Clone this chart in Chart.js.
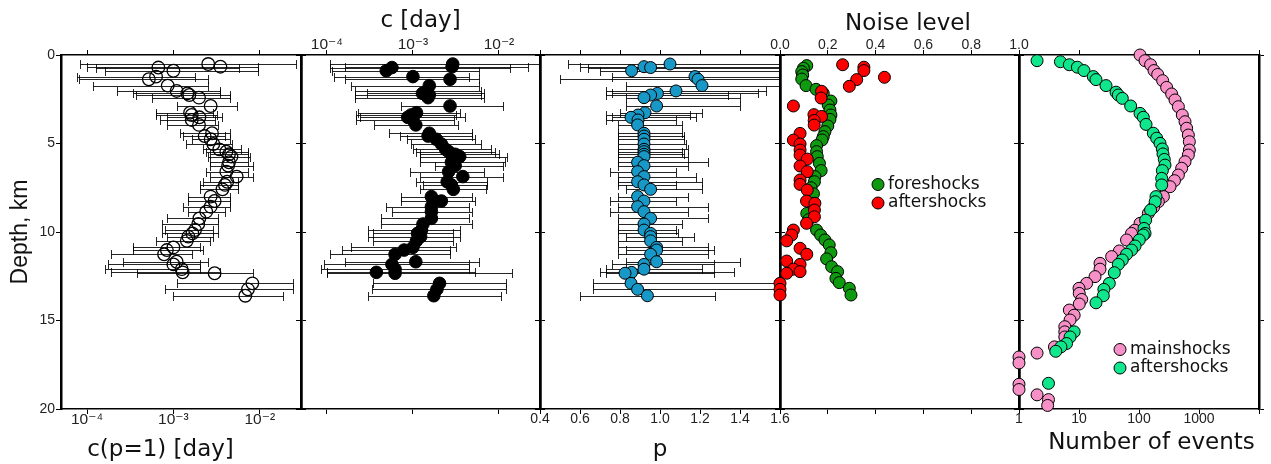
<!DOCTYPE html>
<html>
<head>
<meta charset="utf-8">
<script src="https://cdn.jsdelivr.net/npm/chart.js@4.4.1/dist/chart.umd.min.js"></script>
<style>
  html, body { margin: 0; padding: 0; background: #fff; width: 1271px; height: 464px; overflow: hidden; }
  canvas { position: absolute; left: 0; top: 0; }
</style>
</head>
<body>
<canvas id="panelC1" width="1271" height="464"></canvas>
<canvas id="panelC" width="1271" height="464"></canvas>
<canvas id="panelP" width="1271" height="464"></canvas>
<canvas id="panelNoise" width="1271" height="464"></canvas>
<canvas id="panelCount" width="1271" height="464"></canvas>
<script>
// ---- depth windows shared by the c(p=1), c and p profiles (km) ----
const depthKm = [0.51, 0.66, 0.71, 0.89, 1.22, 1.37, 1.73, 2.03, 2.17, 2.26, 2.41, 2.88, 3.26, 3.39, 3.52, 3.67, 3.95,
  4.42, 4.58, 4.76, 5.03, 5.33, 5.46, 5.61, 5.74, 6.06, 6.25, 6.59, 6.87, 7.16, 7.34, 7.59, 8.0, 8.25, 8.57, 8.85,
  9.23, 9.55, 9.89, 10.08, 10.26, 10.5, 10.87, 11.02, 11.26, 11.68, 11.83, 12.1, 12.28, 12.33, 12.9, 13.24, 13.6];

// c with p fixed to 1 [day] and its confidence interval
const cP1 = [2.53e-3, 3.5e-3, 6.7e-4, 1.0e-3, 6.3e-4, 5.2e-4, 8.6e-4, 1.09e-3, 1.45e-3, 1.53e-3, 1.98e-3, 2.7e-3, 1.56e-3,
  1.63e-3, 2.0e-3, 1.63e-3, 1.98e-3, 2.8e-3, 2.3e-3, 2.7e-3, 2.9e-3, 3.4e-3, 4.1e-3, 4.4e-3, 4.7e-3, 4.4e-3, 4.3e-3,
  4.1e-3, 5.4e-3, 4.2e-3, 3.95e-3, 3.7e-3, 2.7e-3, 3.0e-3, 2.7e-3, 2.4e-3, 2.0e-3, 1.94e-3, 1.78e-3, 1.66e-3, 1.49e-3,
  1.43e-3, 1.0e-3, 8.4e-4, 7.8e-4, 1.09e-3, 1.0e-3, 1.25e-3, 1.28e-3, 3.0e-3, 8.2e-3, 7.3e-3, 6.8e-3];
const cP1Lo = [8.4e-5, 1.0e-4, 1.27e-4, 1.63e-4, 7.7e-5, 8.1e-5, 1.17e-4, 2.24e-4, 3.4e-4, 3.7e-4, 5.6e-4, 1.09e-3, 6.3e-4,
  6.3e-4, 8.5e-4, 7.0e-4, 8.5e-4, 1.19e-3, 1.3e-3, 1.64e-3, 1.4e-3, 2.2e-3, 2.4e-3, 2.65e-3, 2.5e-3, 2.65e-3, 2.65e-3,
  2.4e-3, 2.65e-3, 2.2e-3, 2.03e-3, 2.03e-3, 1.48e-3, 1.48e-3, 1.3e-3, 1.48e-3, 8.5e-4, 7.4e-4, 8.0e-4, 7.4e-4, 8.5e-4,
  6.3e-4, 3.4e-4, 3.4e-4, 1.9e-4, 2.6e-4, 1.76e-4, 1.63e-4, 1.9e-4, 3.8e-4, 1.1e-3, 8.0e-4, 9.9e-4];
const cP1Hi = [0.026, 9.5e-3, 5.8e-3, 9.5e-3, 1.78e-3, 2.5e-3, 2.5e-3, 3.45e-3, 3.45e-3, 4.5e-3, 4.5e-3, 5.4e-3, 2.86e-3,
  3.2e-3, 3.64e-3, 3.0e-3, 3.3e-3, 4.5e-3, 4.0e-3, 4.5e-3, 4.8e-3, 6.0e-3, 7.3e-3, 7.3e-3, 7.8e-3, 7.3e-3, 8.3e-3,
  7.3e-3, 8.3e-3, 5.6e-3, 5.6e-3, 5.6e-3, 4.5e-3, 4.5e-3, 4.5e-3, 4.0e-3, 3.3e-3, 3.3e-3, 2.9e-3, 3.3e-3, 2.9e-3,
  2.65e-3, 2.03e-3, 2.2e-3, 1.64e-3, 2.5e-3, 2.03e-3, 2.03e-3, 3.45e-3, 8.3e-3, 0.024, 0.024, 0.0184];

// c [day] with free p, and its confidence interval
const cDay = [2.9e-3, 2.85e-3, 5.7e-4, 4.9e-4, 1.0e-3, 2.7e-3, 1.55e-3, 1.45e-3, 1.29e-3, 1.55e-3, 1.5e-3, 2.7e-3, 1.1e-3,
  9.5e-4, 8.7e-4, 1.0e-3, 1.08e-3, 1.55e-3, 1.5e-3, 1.87e-3, 2.14e-3, 2.4e-3, 2.6e-3, 3.1e-3, 3.5e-3, 2.8e-3, 3.1e-3,
  2.6e-3, 3.8e-3, 2.5e-3, 2.8e-3, 2.95e-3, 1.64e-3, 2.14e-3, 1.64e-3, 1.64e-3, 1.64e-3, 1.31e-3, 1.26e-3, 1.13e-3,
  1.23e-3, 1.1e-3, 1.0e-3, 7.9e-4, 6.2e-4, 1.08e-3, 5.7e-4, 6.2e-4, 3.76e-4, 6.2e-4, 2.04e-3, 1.9e-3, 1.75e-3];
const cDayLo = [1.09e-4, 1.62e-4, 1.09e-4, 1.16e-4, 1.2e-4, 1.62e-4, 1.92e-4, 2.1e-4, 2.9e-4, 2.1e-4, 2.1e-4, 7.3e-4, 2.3e-4,
  2.2e-4, 2.4e-4, 2.2e-4, 3.5e-4, 5.3e-4, 7.1e-4, 8.5e-4, 9.5e-4, 1.0e-3, 1.1e-3, 1.2e-3, 1.2e-3, 1.2e-3, 1.8e-3,
  9.2e-4, 1.2e-3, 1.1e-3, 1.3e-3, 1.2e-3, 7.3e-4, 7.3e-4, 4.8e-4, 5.7e-4, 4.2e-4, 4.2e-4, 3.0e-4, 3.4e-4, 3.0e-4,
  3.4e-4, 1.9e-4, 1.5e-4, 1.09e-4, 1.62e-4, 9.2e-5, 8.5e-5, 1.0e-4, 1.0e-4, 3.4e-4, 3.3e-4, 3.0e-4];
const cDayHi = [0.05, 0.0217, 0.0134, 5.8e-3, 4.5e-3, 5.8e-3, 5.8e-3, 6.2e-3, 6.7e-3, 6.2e-3, 6.7e-3, 0.0112, 3.5e-3,
  3.2e-3, 4.0e-3, 3.0e-3, 3.3e-3, 4.9e-3, 4.9e-3, 5.3e-3, 6.2e-3, 8.0e-3, 9.0e-3, 0.01, 0.0123, 0.0118, 0.0112,
  6.7e-3, 0.0112, 7.3e-3, 7.3e-3, 7.0e-3, 4.9e-3, 5.3e-3, 4.5e-3, 4.9e-3, 4.5e-3, 4.9e-3, 3.5e-3, 2.9e-3, 3.5e-3,
  2.9e-3, 3.2e-3, 2.7e-3, 2.7e-3, 5.8e-3, 4.5e-3, 4.5e-3, 5.3e-3, 0.0142, 0.012, 0.012, 0.0106];

// Omori exponent p and its confidence interval
const pVal = [1.05, 0.92, 0.953, 0.858, 1.175, 1.19, 1.21, 1.08, 0.987, 0.953, 0.92, 0.983, 0.925, 0.89, 0.855, 0.89,
  0.888, 0.92, 0.92, 0.92, 0.92, 0.92, 0.92, 0.92, 0.92, 0.888, 0.92, 0.888, 0.92, 0.888, 0.92, 0.953, 0.888, 0.92,
  0.888, 0.92, 0.953, 0.92, 0.92, 0.953, 0.953, 0.953, 0.983, 0.983, 0.953, 0.983, 0.92, 0.92, 0.858, 0.825, 0.855,
  0.888, 0.937];
const pLo = [0.54, 0.6, 0.64, 0.7, 0.76, 0.5, 0.83, 0.73, 0.76, 0.73, 0.83, 0.83, 0.8, 0.73, 0.76, 0.73, 0.79, 0.79,
  0.79, 0.79, 0.79, 0.79, 0.79, 0.79, 0.79, 0.79, 0.79, 0.75, 0.79, 0.79, 0.79, 0.83, 0.79, 0.75, 0.79, 0.75, 0.79,
  0.79, 0.79, 0.79, 0.83, 0.79, 0.79, 0.83, 0.79, 0.83, 0.76, 0.73, 0.7, 0.73, 0.667, 0.667, 0.6];
const pHi = [1.9, 1.9, 1.9, 1.9, 1.9, 1.9, 1.9, 1.53, 1.49, 1.34, 1.4, 1.4, 1.21, 1.15, 1.18, 1.08, 1.11, 1.11, 1.12,
  1.12, 1.13, 1.14, 1.11, 1.12, 1.14, 1.24, 1.14, 1.08, 1.18, 1.21, 1.08, 1.21, 1.14, 1.08, 1.24, 1.14, 1.24, 1.11,
  1.08, 1.09, 1.17, 1.11, 1.24, 1.27, 1.24, 1.4, 1.27, 1.21, 1.37, 1.27, 1.9, 1.9, 1.275];

// noise level of the foreshock / aftershock sequences
const foreDepth = [0.6, 0.75, 0.94, 1.13, 1.36, 1.73, 1.94, 2.17, 2.6, 2.83, 3.11, 3.39, 3.64, 4.01, 4.33, 4.61, 4.8,
  5.12, 5.46, 5.74, 6.12, 6.53, 6.87, 7.16, 7.5, 7.84, 8.38, 8.95, 9.3, 9.89, 10.17, 10.45, 10.73, 11.17, 11.52,
  11.96, 12.24, 12.62, 12.86, 13.18, 13.56];
const foreNoise = [0.112, 0.098, 0.091, 0.095, 0.091, 0.109, 0.151, 0.181, 0.213, 0.202, 0.209, 0.213, 0.209, 0.2,
  0.188, 0.181, 0.176, 0.153, 0.153, 0.156, 0.165, 0.172, 0.146, 0.144, 0.13, 0.14, 0.139, 0.112, 0.12, 0.153, 0.17,
  0.188, 0.206, 0.213, 0.195, 0.216, 0.241, 0.234, 0.248, 0.29, 0.297];
const aftDepth = [0.55, 0.69, 0.88, 1.26, 1.39, 1.77, 2.05, 2.43, 2.88, 3.37, 3.47, 3.7, 3.96, 4.43, 4.81, 5.03, 5.37,
  5.65, 5.88, 6.27, 6.59, 7.06, 7.31, 7.63, 8.25, 8.38, 8.76, 9.14, 9.51, 9.89, 10.17, 10.5, 10.92, 11.26, 11.64,
  11.83, 12.1, 12.24, 12.33, 12.9, 13.24, 13.56];
const aftNoise = [0.262, 0.351, 0.351, 0.437, 0.321, 0.29, 0.174, 0.172, 0.056, 0.142, 0.174, 0.143, 0.143, 0.084,
  0.056, 0.084, 0.084, 0.084, 0.114, 0.084, 0.114, 0.084, 0.084, 0.114, 0.111, 0.146, 0.144, 0.144, 0.111, 0.056,
  0.049, 0.028, 0.084, 0.112, 0.028, 0.084, 0.056, 0.084, 0.028, 0.0, 0.0, 0.0];

// number of events per depth window
const mainDepth = [0.0, 0.32, 0.55, 0.88, 1.1, 1.45, 1.83, 2.2, 2.54, 2.92, 3.39, 3.77, 4.14, 4.52, 4.9, 5.37, 5.65,
  6.03, 6.4, 6.78, 7.1, 7.44, 8.0, 8.29, 8.6, 8.95, 9.51, 9.9, 10.08, 10.45, 11.07, 11.39, 11.77, 12.1, 12.52, 12.9,
  13.18, 13.47, 13.81, 14.07, 14.41, 14.7, 14.97, 15.35, 15.64, 15.93, 16.49, 16.84, 17.06, 17.4, 18.6, 18.9, 19.2,
  19.47, 19.8];
const mainCount = [104, 126, 156, 178, 205, 248, 289, 350, 398, 453, 527, 585, 623, 664, 690, 690, 664, 585, 514, 453,
  390, 329, 255, 210, 175, 143, 104, 85, 75, 62, 47, 35, 22.4, 22.4, 18.5, 13.4, 10, 10.1, 11.1, 10.1, 6.9, 8.3, 7.1,
  5.8, 5.8, 5.8, 3.9, 2.0, 1, 1, 1, 1, 2, 3.1, 3.0];
const aftCountDepth = [0.32, 0.38, 0.55, 0.69, 0.88, 1.22, 1.39, 1.73, 2.1, 2.26, 2.45, 2.88, 3.3, 3.52, 3.92, 4.42,
  4.7, 4.99, 5.31, 5.59, 5.9, 6.22, 6.53, 6.97, 7.34, 8.0, 8.29, 8.76, 9.33, 9.8, 10.08, 10.17, 10.45, 10.79, 11.02,
  11.26, 11.58, 11.83, 12.3, 12.9, 13.24, 13.6, 14.0, 15.64, 15.93, 16.3, 16.49, 16.74, 18.55];
const aftCount = [2.0, 4.9, 6.9, 9.4, 12.1, 17.3, 19.2, 28.2, 41.4, 45.2, 52.7, 72.6, 104, 118, 131, 173, 197, 224,
  245, 251, 264, 271, 245, 239, 239, 192, 186, 156, 129, 121, 126, 118, 101, 86, 75, 62, 52.7, 45.2, 38.8, 32, 26,
  25.4, 19.2, 8.3, 7.1, 6.2, 5.0, 4.1, 3.1];

// axis ticks
const depthTicks = [0, 5, 10, 15, 20];
const cTicks = [1e-4, 1e-3, 1e-2];
const cTickLabels = ['10\u207B\u2074', '10\u207B\u00B3', '10\u207B\u00B2'];
const pTicks = [0.4, 0.6, 0.8, 1.0, 1.2, 1.4, 1.6];
const pTickLabels = ['0.4', '0.6', '0.8', '1.0', '1.2', '1.4', '1.6'];
const noiseTicks = [0, 0.2, 0.4, 0.6, 0.8, 1.0];
const noiseTickLabels = ['0.0', '0.2', '0.4', '0.6', '0.8', '1.0'];
const countTicks = [1, 10, 100, 1000, 10000];
const countTickLabels = ['1', '10', '100', '1000', ''];

// ---------------- drawing helpers ----------------
const PAGE_W = 1271;
const AXIS_H = 55;      // height reserved for the top and bottom axis boxes
const SIDE_W = 30;      // width reserved for the side depth axes
const tickFamily = '"Liberation Sans", "DejaVu Sans", Arial, sans-serif';
const tickFont = { family: tickFamily, size: 14, lineHeight: 1 };
const powerFont = { family: tickFamily, size: 15.5, lineHeight: 1 };
const tickColor = '#222';
const titleFamily = '"DejaVu Sans", "Liberation Sans", sans-serif';

const pts = (xs, ys) => xs.map((v, i) => ({ x: v, y: ys[i] }));

function depthAxis(position, showLabels, boxWidth) {
  return {
    type: 'linear', position, min: 0, max: 20, reverse: true,
    afterBuildTicks: s => { s.ticks = depthTicks.map(v => ({ value: v })); },
    ticks: { display: showLabels, padding: 1, font: tickFont, color: tickColor, callback: v => String(v) },
    grid: { drawOnChartArea: false, drawTicks: true, tickLength: 5, color: '#000', lineWidth: 1 },
    border: { display: true, color: '#000', width: 2.5, z: -1 },
    afterFit: s => { s.width = boxWidth; }
  };
}

function valueAxis(position, spec, showLabels) {
  return {
    type: spec.type, position, min: spec.min, max: spec.max,
    afterBuildTicks: s => { s.ticks = spec.ticks.map(v => ({ value: v })); },
    ticks: { display: showLabels, padding: -2, autoSkip: false, maxRotation: 0, font: spec.font || tickFont,
      color: tickColor, callback: (v, i) => spec.labels[i] },
    grid: { drawOnChartArea: false, drawTicks: true, tickLength: 5, color: '#000', lineWidth: 1 },
    border: { display: true, color: '#000', width: 1.5, z: -1 },
    afterFit: s => { s.height = AXIS_H; }
  };
}

// horizontal confidence bars with end caps, drawn under the markers
const errorBars = {
  id: 'errorBars',
  beforeDatasetsDraw(chart) {
    const { ctx, chartArea: a } = chart;
    const xs = chart.scales.x, ys = chart.scales.y;
    ctx.save();
    ctx.beginPath();
    ctx.rect(a.left, a.top, a.right - a.left, a.bottom - a.top);
    ctx.clip();
    ctx.strokeStyle = 'rgba(0,0,0,0.85)';
    ctx.lineWidth = 1;
    chart.data.datasets.forEach(ds => {
      if (!ds.errLo) return;
      ds.data.forEach((pt, i) => {
        const y = Math.round(ys.getPixelForValue(pt.y)) + 0.5;
        const x0 = Math.round(xs.getPixelForValue(ds.errLo[i])) + 0.5;
        const x1 = Math.round(xs.getPixelForValue(ds.errHi[i])) + 0.5;
        ctx.beginPath();
        ctx.moveTo(x0, y); ctx.lineTo(x1, y);
        ctx.moveTo(x0, y - 4.5); ctx.lineTo(x0, y + 4.5);
        ctx.moveTo(x1, y - 4.5); ctx.lineTo(x1, y + 4.5);
        ctx.stroke();
      });
    });
    ctx.restore();
  }
};

// marker + label key placed inside the frame
const inlineLegend = {
  id: 'inlineLegend',
  afterDatasetsDraw(chart, args, opts) {
    if (opts.x === undefined) return;
    const ctx = chart.ctx;
    ctx.save();
    chart.data.datasets.forEach((ds, i) => {
      const cy = opts.y + i * opts.gap;
      ctx.beginPath();
      ctx.arc(opts.x, cy, ds.pointRadius, 0, Math.PI * 2);
      ctx.fillStyle = ds.backgroundColor;
      ctx.fill();
      ctx.lineWidth = 1;
      ctx.strokeStyle = ds.borderColor;
      ctx.stroke();
      ctx.fillStyle = '#111';
      ctx.font = '17px ' + titleFamily;
      ctx.textBaseline = 'middle';
      ctx.textAlign = 'left';
      ctx.fillText(ds.label, opts.x + 10, cy);
    });
    ctx.restore();
  }
};

// axis captions
const captions = {
  id: 'captions',
  afterDraw(chart, args, opts) {
    if (!opts.items) return;
    const ctx = chart.ctx;
    opts.items.forEach(it => {
      ctx.save();
      ctx.translate(it.x, it.y);
      if (it.rot) ctx.rotate(it.rot);
      ctx.font = it.font;
      ctx.fillStyle = '#111';
      ctx.textAlign = 'center';
      ctx.textBaseline = 'alphabetic';
      ctx.fillText(it.text, 0, 0);
      ctx.restore();
    });
  }
};

function makePanel(canvasId, frame, xSpec, showBottom, showTop, datasets, extra) {
  const leftW = frame.leftLabels ? frame.left : SIDE_W;
  return new Chart(document.getElementById(canvasId), {
    type: 'scatter',
    data: { datasets },
    options: {
      responsive: false, animation: false, devicePixelRatio: 1, events: [],
      layout: { padding: { left: frame.left - leftW, right: PAGE_W - frame.right - SIDE_W, top: 0, bottom: 0 } },
      scales: {
        x: valueAxis('bottom', xSpec, showBottom),
        x2: valueAxis('top', xSpec, showTop),
        y: depthAxis('left', !!frame.leftLabels, leftW),
        yR: depthAxis('right', false, SIDE_W)
      },
      plugins: Object.assign({ legend: { display: false }, tooltip: { enabled: false } }, extra || {})
    },
    plugins: [errorBars, inlineLegend, captions]
  });
}

const cSpec = { type: 'logarithmic', min: 5e-5, max: 3e-2, ticks: cTicks, labels: cTickLabels, font: powerFont };
const pSpec = { type: 'linear', min: 0.4, max: 1.6, ticks: pTicks, labels: pTickLabels };
const noiseSpec = { type: 'linear', min: 0, max: 1, ticks: noiseTicks, labels: noiseTickLabels };
const countSpec = { type: 'logarithmic', min: 1, max: 10000, ticks: countTicks, labels: countTickLabels };

const marker = (label, data, fill, extra) => Object.assign({
  label, data, backgroundColor: fill, borderColor: '#000', borderWidth: 1, pointRadius: 6, clip: false
}, extra || {});

makePanel('panelC1', { left: 61, right: 301, leftLabels: true }, cSpec, true, false,
  [marker('c(p=1)', pts(cP1, depthKm), 'rgba(0,0,0,0)', { borderWidth: 1.3, pointRadius: 6.3, errLo: cP1Lo, errHi: cP1Hi })],
  { captions: { items: [
    { text: 'Depth, km', x: 27, y: 232, rot: -Math.PI / 2, font: '23px "Liberation Sans", Arial, sans-serif' },
    { text: 'c(p=1) [day]', x: 160.5, y: 456, font: '23px ' + titleFamily }
  ] } });

makePanel('panelC', { left: 301, right: 540 }, cSpec, false, true,
  [marker('c', pts(cDay, depthKm), '#000', { pointRadius: 6.3, errLo: cDayLo, errHi: cDayHi })],
  { captions: { items: [{ text: 'c [day]', x: 420.5, y: 27, font: '23px ' + titleFamily }] } });

makePanel('panelP', { left: 540, right: 780 }, pSpec, true, false,
  [marker('p', pts(pVal, depthKm), '#1898c6', { errLo: pLo, errHi: pHi })],
  { captions: { items: [{ text: 'p', x: 660, y: 456, font: '23px ' + titleFamily }] } });

makePanel('panelNoise', { left: 780, right: 1019 }, noiseSpec, false, true,
  [marker('foreshocks', pts(foreNoise, foreDepth), '#0f9a0f', { order: 1 }),
   marker('aftershocks', pts(aftNoise, aftDepth), '#ff0000', { order: 0 })],
  { inlineLegend: { x: 878, y: 184.5, gap: 18.5 },
    captions: { items: [{ text: 'Noise level', x: 908, y: 29.5, font: '23px ' + titleFamily }] } });

makePanel('panelCount', { left: 1019, right: 1259 }, countSpec, true, false,
  [marker('mainshocks', pts(mainCount, mainDepth), '#f690c6', { order: 1 }),
   marker('aftershocks', pts(aftCount, aftCountDepth), '#10e68c', { order: 0 })],
  { inlineLegend: { x: 1120, y: 349.5, gap: 18.5 },
    captions: { items: [{ text: 'Number of events', x: 1151.5, y: 448.5, font: '23px ' + titleFamily }] } });
</script>
</body>
</html>
